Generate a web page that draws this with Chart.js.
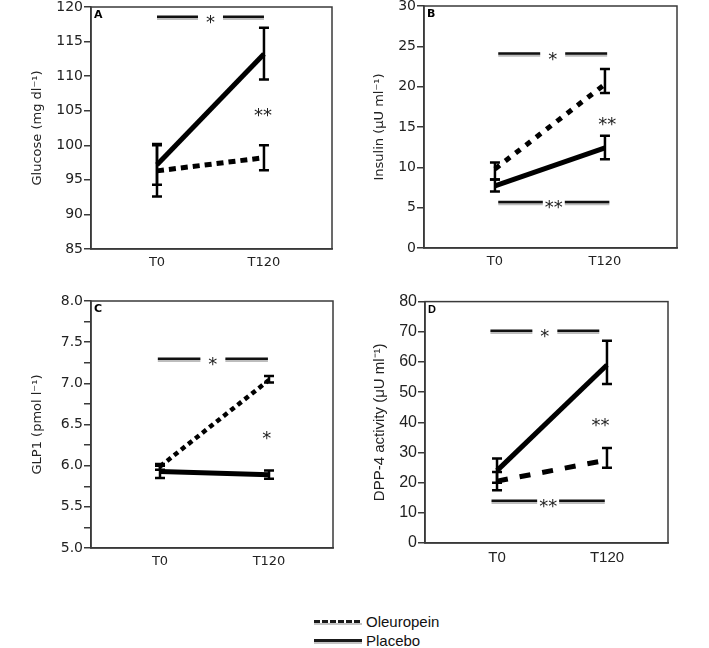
<!DOCTYPE html>
<html>
<head>
<meta charset="utf-8">
<script src="https://cdn.jsdelivr.net/npm/chart.js@4.4.1/dist/chart.umd.min.js"></script>
<style>
  body { margin: 0; background: #fff; width: 709px; height: 648px; position: relative; overflow: hidden; }
  canvas { position: absolute; }
  .key-line { position: absolute; left: 314px; width: 48px; height: 3px; }
  .key-shadow { position: absolute; left: 314px; width: 48px; height: 2px; background: #c4c4c4; }
  .key-text { position: absolute; left: 366px; font: 15px 'Liberation Sans', Arial, sans-serif; color: #111; line-height: 17px; }
</style>
</head>
<body>
<canvas id="glucose"></canvas>
<canvas id="insulin"></canvas>
<canvas id="glp1"></canvas>
<canvas id="dpp4"></canvas>

<div class="key-shadow" style="top:623px"></div>
<div class="key-line" style="top:620px;background:repeating-linear-gradient(90deg,#1a1a1a 0 6px,transparent 6px 8px)"></div>
<div class="key-text" style="top:613px">Oleuropein</div>
<div class="key-shadow" style="top:642px"></div>
<div class="key-line" style="top:639px;background:#1a1a1a"></div>
<div class="key-text" style="top:632px">Placebo</div>

<script>
'use strict';

var timepoints = ['T0', 'T120'];

// A - glucose
var glucoseOleuropein = [96.3, 98.2];
var glucoseOleuropeinLow = [92.6, 96.4];
var glucoseOleuropeinHigh = [100.0, 100.0];
var glucosePlacebo = [97.2, 113.2];
var glucosePlaceboLow = [94.3, 109.5];
var glucosePlaceboHigh = [100.2, 117.0];
var glucoseMarks = [{ y: 118.6, from: 0, to: 1, text: '*' }, { y: 105.1, at: 0.99, text: '**' }];

// B - insulin
var insulinOleuropein = [9.8, 20.3];
var insulinOleuropeinLow = [8.5, 19.2];
var insulinOleuropeinHigh = [10.6, 22.2];
var insulinPlacebo = [7.7, 12.4];
var insulinPlaceboLow = [7.0, 11.0];
var insulinPlaceboHigh = [8.5, 13.9];
var insulinMarks = [{ y: 24.1, from: 0.03, to: 1.02, text: '*' }, { y: 5.7, from: 0.03, to: 1.04, text: '**' }, { y: 16.0, at: 1.02, text: '**' }];

// C - GLP1
var glp1Oleuropein = [5.99, 7.04];
var glp1OleuropeinLow = [5.95, 7.01];
var glp1OleuropeinHigh = [6.02, 7.09];
var glp1Placebo = [5.93, 5.89];
var glp1PlaceboLow = [5.85, 5.84];
var glp1PlaceboHigh = [6.0, 5.94];
var glp1Marks = [{ y: 7.3, from: -0.02, to: 0.99, text: '*' }, { y: 6.4, at: 0.98, text: '*' }];

// D - DPP-4 activity
var dpp4Oleuropein = [20.5, 27.5];
var dpp4OleuropeinLow = [17.5, 24.9];
var dpp4OleuropeinHigh = [23.5, 31.5];
var dpp4Placebo = [24.0, 59.0];
var dpp4PlaceboLow = [20.0, 52.7];
var dpp4PlaceboHigh = [28.0, 67.0];
var dpp4Marks = [{ y: 70.3, from: -0.06, to: 0.93, text: '*' }, { y: 14.0, from: -0.05, to: 0.98, text: '**' }, { y: 40.6, at: 0.94, text: '**' }];

var AXIS = '#3a3a3a';

function points(values) {
  return values.map(function (v, i) { return { x: i, y: v }; });
}

var framePlugin = {
  id: 'frame',
  beforeDatasetsDraw: function (chart) {
    var a = chart.chartArea, ctx = chart.ctx;
    ctx.save();
    ctx.strokeStyle = AXIS;
    ctx.lineWidth = 1.5;
    ctx.strokeRect(a.left, a.top, a.right - a.left, a.bottom - a.top);
    ctx.restore();
  }
};

var errorBarPlugin = {
  id: 'errorBars',
  afterDatasetsDraw: function (chart) {
    var ctx = chart.ctx, xs = chart.scales.x, ys = chart.scales.y;
    ctx.save();
    ctx.strokeStyle = '#000';
    ctx.lineWidth = 2.5;
    chart.data.datasets.forEach(function (ds) {
      ds.errLow.forEach(function (lo, i) {
        var x = xs.getPixelForValue(ds.data[i].x);
        var y1 = ys.getPixelForValue(lo), y2 = ys.getPixelForValue(ds.errHigh[i]);
        ctx.beginPath();
        ctx.moveTo(x, y1); ctx.lineTo(x, y2);
        ctx.moveTo(x - 5, y1); ctx.lineTo(x + 5, y1);
        ctx.moveTo(x - 5, y2); ctx.lineTo(x + 5, y2);
        ctx.stroke();
      });
    });
    ctx.restore();
  }
};

function sigPlugin(marks, letter, family) {
  return {
    id: 'sig',
    afterDraw: function (chart) {
      var ctx = chart.ctx, xs = chart.scales.x, ys = chart.scales.y, a = chart.chartArea;
      ctx.save();
      ctx.fillStyle = '#000';
      ctx.font = 'bold 11px ' + family;
      ctx.textBaseline = 'top';
      ctx.textAlign = 'left';
      ctx.fillText(letter, a.left + 3, a.top + 3);

      ctx.font = '18px "DejaVu Sans"';
      ctx.textAlign = 'center';
      ctx.textBaseline = 'alphabetic';
      marks.forEach(function (m) {
        var y = ys.getPixelForValue(m.y);
        var tw = ctx.measureText(m.text).width;
        if (m.from === undefined) {
          ctx.fillStyle = '#222';
          ctx.fillText(m.text, xs.getPixelForValue(m.at), y + 11);
          return;
        }
        var x1 = xs.getPixelForValue(m.from), x2 = xs.getPixelForValue(m.to);
        var mid = (x1 + x2) / 2;
        var half = tw / 2 + (m.text.length === 1 ? 8 : 2);
        [['#bdbdbd', 2.5, 2], ['#111', 2.5, 0]].forEach(function (s) {
          ctx.strokeStyle = s[0];
          ctx.lineWidth = s[1];
          ctx.beginPath();
          ctx.moveTo(x1, y + s[2]); ctx.lineTo(mid - half, y + s[2]);
          ctx.moveTo(mid + half, y + s[2]); ctx.lineTo(x2, y + s[2]);
          ctx.stroke();
        });
        ctx.fillStyle = '#222';
        ctx.fillText(m.text, mid, y + 11);
      });
      ctx.restore();
    }
  };
}

function makePanel(id, box, p) {
  var canvas = document.getElementById(id);
  var W = box.r - box.l + 91 + 12, H = box.b - box.t + 10 + 30;
  canvas.width = W; canvas.height = H;
  canvas.style.width = W + 'px'; canvas.style.height = H + 'px';
  canvas.style.left = (box.l - 91) + 'px';
  canvas.style.top = (box.t - 10) + 'px';

  new Chart(canvas, {
    type: 'line',
    data: {
      datasets: [
        {
          label: 'Oleuropein', data: points(p.oleu), errLow: p.oleuLow, errHigh: p.oleuHigh,
          borderDash: p.dash, borderWidth: p.dashWidth
        },
        {
          label: 'Placebo', data: points(p.plac), errLow: p.placLow, errHigh: p.placHigh,
          borderWidth: 5
        }
      ]
    },
    options: {
      responsive: false,
      animation: false,
      layout: { padding: { top: 10, right: 12, left: 0, bottom: 0 } },
      plugins: { legend: { display: false }, tooltip: { enabled: false } },
      elements: {
        point: { radius: 0 },
        line: { borderColor: '#000', tension: 0, borderCapStyle: 'butt', fill: false }
      },
      scales: {
        x: {
          type: 'linear', min: p.xMin, max: p.xMax,
          afterBuildTicks: function (s) { s.ticks = [{ value: 0 }, { value: 1 }]; },
          ticks: {
            callback: function (v) { return timepoints[v]; },
            font: { family: p.family, size: p.xTickSize }, color: '#222', padding: 6, autoSkip: false, maxRotation: 0
          },
          grid: { display: false, drawTicks: false },
          border: { display: true, color: AXIS, width: 1.5 },
          afterFit: function (s) { s.height = 30; }
        },
        y: {
          min: p.yMin, max: p.yMax,
          ticks: {
            stepSize: p.step, autoSkip: false, font: { family: p.family, size: p.tickSize }, color: '#222', padding: 1,
            callback: p.label || function (v) { return v; }
          },
          grid: { drawOnChartArea: false, tickLength: 7, color: AXIS, lineWidth: 1.5 },
          border: { display: true, color: AXIS, width: 1.5 },
          title: {
            display: true, text: p.title, color: '#222',
            font: { family: p.family, size: p.titleSize },
            padding: { top: p.titlePad, bottom: 0 }
          },
          afterFit: function (s) { s.width = 91; }
        }
      }
    },
    plugins: [framePlugin, errorBarPlugin, sigPlugin(p.marks, p.letter, p.family)]
  });
}

var segoe = '"DejaVu Sans", Verdana, sans-serif';
var arial = '"Liberation Sans", Arial, sans-serif';

makePanel('glucose', { l: 91, t: 7, r: 332, b: 249 }, {
  oleu: glucoseOleuropein, oleuLow: glucoseOleuropeinLow, oleuHigh: glucoseOleuropeinHigh,
  plac: glucosePlacebo, placLow: glucosePlaceboLow, placHigh: glucosePlaceboHigh,
  marks: glucoseMarks, letter: 'A', family: segoe, tickSize: 14, xTickSize: 13, titleSize: 13, titlePad: 30,
  title: 'Glucose (mg dl\u207B\u00B9)', yMin: 85, yMax: 120, step: 5,
  xMin: -0.617, xMax: 1.636, dash: [7, 5], dashWidth: 5
});

makePanel('insulin', { l: 424, t: 6, r: 677, b: 248 }, {
  oleu: insulinOleuropein, oleuLow: insulinOleuropeinLow, oleuHigh: insulinOleuropeinHigh,
  plac: insulinPlacebo, placLow: insulinPlaceboLow, placHigh: insulinPlaceboHigh,
  marks: insulinMarks, letter: 'B', family: segoe, tickSize: 14, xTickSize: 13, titleSize: 13, titlePad: 39,
  title: 'Insulin (\u03BCU ml\u207B\u00B9)', yMin: 0, yMax: 30, step: 5,
  xMin: -0.645, xMax: 1.655, dash: [6, 7], dashWidth: 5
});

makePanel('glp1', { l: 91, t: 301, r: 333, b: 548 }, {
  oleu: glp1Oleuropein, oleuLow: glp1OleuropeinLow, oleuHigh: glp1OleuropeinHigh,
  plac: glp1Placebo, placLow: glp1PlaceboLow, placHigh: glp1PlaceboHigh,
  marks: glp1Marks, letter: 'C', family: segoe, tickSize: 14, xTickSize: 13, titleSize: 13, titlePad: 30,
  title: 'GLP1 (pmol l\u207B\u00B9)', yMin: 5, yMax: 8, step: 0.25,
  label: function (v) { return Math.abs(v * 2 - Math.round(v * 2)) < 1e-6 ? v.toFixed(1) : ''; },
  xMin: -0.633, xMax: 1.587, dash: [5, 4], dashWidth: 4.5
});

makePanel('dpp4', { l: 425, t: 301, r: 668, b: 543 }, {
  oleu: dpp4Oleuropein, oleuLow: dpp4OleuropeinLow, oleuHigh: dpp4OleuropeinHigh,
  plac: dpp4Placebo, placLow: dpp4PlaceboLow, placHigh: dpp4PlaceboHigh,
  marks: dpp4Marks, letter: 'D', family: arial, tickSize: 16, xTickSize: 15, titleSize: 15, titlePad: 37,
  title: 'DPP-4 activity (\u03BCU ml\u207B\u00B9)', yMin: 0, yMax: 80, step: 10,
  xMin: -0.655, xMax: 1.555, dash: [11, 12], dashWidth: 5
});
</script>
</body>
</html>
